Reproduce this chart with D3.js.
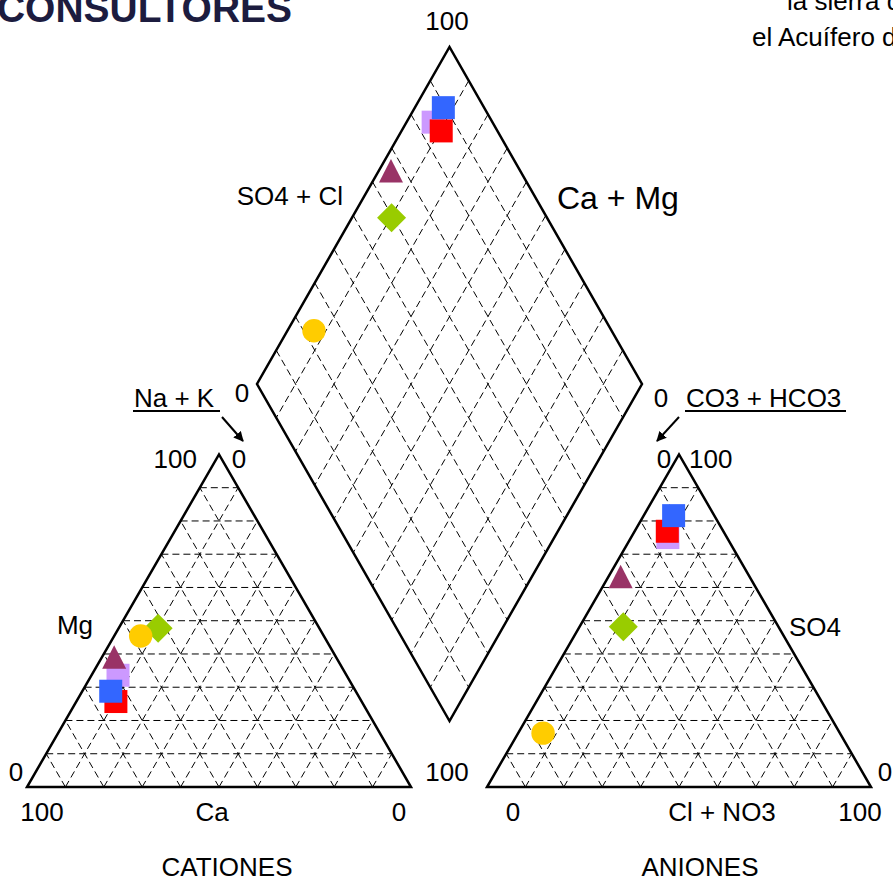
<!DOCTYPE html>
<html>
<head>
<meta charset="utf-8">
<script src="https://cdn.jsdelivr.net/npm/d3@7"></script>
<style>
  body { margin: 0; background: #fff; }
  svg { display: block; }
  text { font-family: "Liberation Sans", Arial, sans-serif; fill: #000; }
</style>
</head>
<body>
<div id="chart"></div>
<script>
// sample series, drawn in this order (last on top)
const series = ['M1', 'M2', 'M3', 'M4', 'M5', 'M6'];
const colors = ['#CC99FF', '#FF0000', '#3366FF', '#993366', '#99CC00', '#FFCC00'];
const shapes = ['square', 'square', 'square', 'triangle', 'diamond', 'circle'];

// cations, % meq
const ca  = [59.5, 64.0, 63.8, 57.8, 42.0, 47.7];
const mg  = [33.6, 25.7, 28.8, 39.0, 47.7, 45.4];
const naK = [6.9, 10.3, 7.4, 3.2, 10.3, 6.9];

// anions, % meq
const hco3 = [15.4, 14.6, 10.6, 33.6, 40.4, 77.3];
const so4  = [75.0, 76.9, 81.6, 63.2, 48.2, 16.2];
const cl   = [9.6, 8.5, 7.8, 3.2, 11.4, 6.5];

const gridSteps = [10, 20, 30, 40, 50, 60, 70, 80, 90];

const width = 893, height = 881;
const side = 384, base = 787;
const tri = side * Math.sqrt(3) / 2;

const svg = d3.select('#chart').append('svg')
    .attr('width', width)
    .attr('height', height);

svg.append('defs').append('marker')
    .attr('id', 'arrow')
    .attr('viewBox', '0 0 10 10')
    .attr('refX', 9).attr('refY', 5)
    .attr('markerWidth', 5).attr('markerHeight', 5)
    .attr('orient', 'auto')
  .append('path')
    .attr('d', 'M0,0L10,5L0,10z')
    .attr('fill', '#000');

// ternary triangle helpers
function ternary(x0) {
    const x = d3.scaleLinear().domain([0, 100]).range([x0, x0 + side]);
    const y = d3.scaleLinear().domain([0, 100]).range([base, base - tri]);
    // a = share toward right corner, b = share toward apex
    return (a, b) => [x(a + b / 2), y(b)];
}
const cat = ternary(27);   // right corner Na+K, apex Mg
const ani = ternary(487);  // right corner Cl, apex SO4

// diamond: n = Na+K, k = CO3+HCO3
const dx = d3.scaleLinear().domain([0, 100]).range([0, 192.5]);
const dy = d3.scaleLinear().domain([0, 100]).range([0, 337]);
const dB = [449.5, 721];
function dia(n, k) {
    const u = 100 - n, v = 100 - k;
    return [dB[0] + dx(v) - dx(u), dB[1] - dy(u) - dy(v)];
}

const line = d3.line();
const gridG = svg.append('g')
    .attr('fill', 'none')
    .attr('stroke', '#000')
    .attr('stroke-width', 1)
    .attr('stroke-dasharray', '7,4');

function triGrid(f) {
    gridSteps.forEach(p => {
        gridG.append('path').attr('d', line([f(0, p), f(100 - p, p)]));
        gridG.append('path').attr('d', line([f(p, 0), f(p, 100 - p)]));
        gridG.append('path').attr('d', line([f(100 - p, 0), f(0, 100 - p)]));
    });
}
triGrid(cat);
triGrid(ani);
gridSteps.forEach(p => {
    gridG.append('path').attr('d', line([dia(p, 0), dia(p, 100)]));
    gridG.append('path').attr('d', line([dia(0, p), dia(100, p)]));
});

const frame = svg.append('g')
    .attr('fill', 'none')
    .attr('stroke', '#000')
    .attr('stroke-width', 2.5)
    .attr('stroke-linejoin', 'miter');
frame.append('path').attr('d', line([cat(0, 0), cat(100, 0), cat(0, 100)]) + 'Z');
frame.append('path').attr('d', line([ani(0, 0), ani(100, 0), ani(0, 100)]) + 'Z');
frame.append('path').attr('d', line([dia(100, 100), dia(0, 100), dia(0, 0), dia(100, 0)]) + 'Z');

// markers
const shapePath = {
    square: 'M-11.5,-11.5H11.5V11.5H-11.5Z',
    triangle: 'M0,-12L12,11.5H-12Z',
    diamond: 'M0,-14.5L14.5,0L0,14.5L-14.5,0Z',
    circle: d3.symbol(d3.symbolCircle, Math.PI * 11.7 * 11.7)()
};
const points = svg.append('g');
function drawSet(pos) {
    series.forEach((s, i) => {
        const [px, py] = pos(i);
        points.append('path')
            .attr('d', shapePath[shapes[i]])
            .attr('transform', `translate(${px},${py})`)
            .attr('fill', colors[i]);
    });
}
drawSet(i => cat(naK[i], mg[i]));
drawSet(i => ani(cl[i], so4[i]));
drawSet(i => dia(naK[i], hco3[i]));

// labels
const labels = [
    ['100', 447, 30, 'middle', 26],
    ['SO4 + Cl', 343, 205, 'end', 26],
    ['Ca + Mg', 557, 209, 'start', 32],
    ['0', 242, 402, 'middle', 26],
    ['0', 661, 407, 'middle', 26],
    ['Na + K', 134, 407, 'start', 26],
    ['CO3 + HCO3', 686, 407, 'start', 26],
    ['100', 197, 468, 'end', 26],
    ['0', 239, 468, 'middle', 26],
    ['0', 664, 468, 'middle', 26],
    ['100', 689, 468, 'start', 26],
    ['Mg', 75, 634, 'middle', 26],
    ['SO4', 815, 636, 'middle', 26],
    ['0', 16, 781, 'middle', 26],
    ['100', 447, 781, 'middle', 26],
    ['0', 885, 781, 'middle', 26],
    ['100', 42, 821, 'middle', 26],
    ['Ca', 212, 821, 'middle', 26],
    ['0', 399, 821, 'middle', 26],
    ['0', 513, 821, 'middle', 26],
    ['Cl + NO3', 722, 821, 'middle', 26],
    ['100', 860, 821, 'middle', 26],
    ['CATIONES', 227, 876, 'middle', 26],
    ['ANIONES', 700, 876, 'middle', 26]
];
svg.append('g').selectAll('text')
    .data(labels).enter().append('text')
    .attr('x', d => d[1])
    .attr('y', d => d[2])
    .attr('text-anchor', d => d[3])
    .attr('font-size', d => d[4])
    .text(d => d[0]);

const ann = svg.append('g').attr('stroke', '#000').attr('stroke-width', 2);
ann.append('line').attr('x1', 133).attr('x2', 220).attr('y1', 411).attr('y2', 411);
ann.append('line').attr('x1', 685).attr('x2', 846).attr('y1', 411).attr('y2', 411);
ann.append('line').attr('x1', 222).attr('y1', 417).attr('x2', 243).attr('y2', 441)
    .attr('marker-end', 'url(#arrow)');
ann.append('line').attr('x1', 679).attr('y1', 417).attr('x2', 657).attr('y2', 441)
    .attr('marker-end', 'url(#arrow)');

// cropped header texts from the original page
svg.append('text')
    .attr('x', -3).attr('y', 22)
    .attr('font-family', '"DejaVu Sans", sans-serif')
    .attr('font-weight', 'bold')
    .attr('font-size', 40)
    .attr('textLength', 295)
    .attr('lengthAdjust', 'spacingAndGlyphs')
    .style('fill', '#1c1c3f')
    .text('CONSULTORES');
svg.append('text').attr('x', 787).attr('y', 10).attr('font-size', 26).text('la sierra d');
svg.append('text').attr('x', 752).attr('y', 46).attr('font-size', 26).text('el Acuífero d');
</script>
</body>
</html>
